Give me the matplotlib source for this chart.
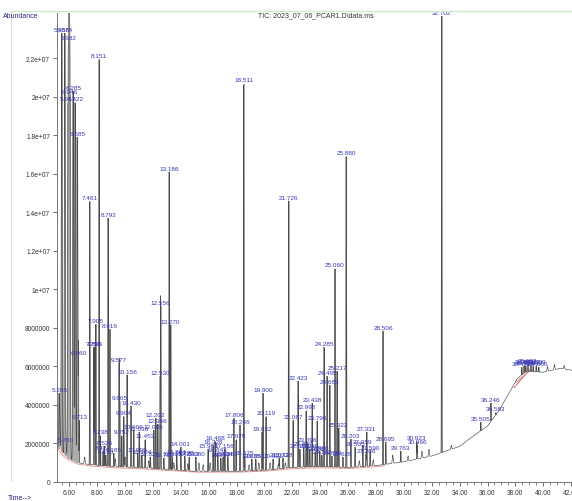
import numpy as np
import matplotlib.pyplot as plt
from matplotlib.lines import Line2D

plt.rcParams['font.family'] = ['Liberation Sans', 'DejaVu Sans']

# baseline of the TIC trace (time in min, abundance)
base_t = [5.12, 5.5, 6.0, 6.6, 7.5, 9.0, 11.0, 13.0, 15.0, 18.0, 20.0, 22.0, 24.0,
          26.0, 28.0, 30.0, 32.0, 33.0, 34.0, 35.0, 36.0, 36.9, 37.6, 38.1, 38.8,
          40.0, 41.2, 42.1]
base_v = [1.9e6, 1.5e6, 1.2e6, 1.0e6, 0.9e6, 0.8e6, 0.75e6, 0.65e6, 0.55e6, 0.55e6,
          0.6e6, 0.75e6, 0.8e6, 0.75e6, 0.85e6, 1.05e6, 1.35e6, 1.6e6, 1.85e6, 2.4e6,
          2.9e6, 3.8e6, 4.7e6, 5.35e6, 5.75e6, 5.7e6, 5.9e6, 5.8e6]

# solvent region peaks (broad, integrated in pink)
solv_t = [5.285, 5.456, 5.674, 5.760, 5.917, 5.982, 6.046, 6.285, 6.422, 6.585]
solv_h = [4.6e6, 2.33e7, 2.33e7, 2.0e6, 1.97e7, 2.29e7, 2.01e7, 2.03e7, 1.97e7, 1.79e7]

# labelled peaks: retention time, apex abundance
peak_t = [6.660, 6.713, 7.461, 7.758, 7.805, 7.905, 8.151, 8.238, 8.526, 8.792, 8.919,
          9.577, 9.605, 9.904, 9.752, 10.156, 10.430, 10.609, 11.453, 12.202, 12.346,
          12.530, 12.556, 13.186, 13.270, 13.704, 14.001, 15.963, 16.328, 16.468,
          17.156, 17.806, 17.979, 18.246, 18.511, 18.575, 19.832, 19.900, 20.119,
          21.726, 22.067, 22.423, 22.998, 23.438, 23.796, 24.285, 24.495, 24.685,
          25.060, 25.217, 25.322, 25.880, 26.203, 27.059, 27.286, 27.331, 28.506,
          28.695, 29.763, 30.923, 30.966, 32.702, 35.505, 36.246, 36.583,
          38.451, 38.623, 38.736, 38.903, 39.113, 39.287, 39.509, 39.666]
peak_h = [6.55e6, 3.2e6, 1.46e7, 7.0e6, 7.0e6, 8.2e6, 2.197e7, 2.4e6, 1.87e6, 1.37e7,
          7.95e6, 6.18e6, 4.2e6, 3.4e6, 2.4e6, 5.56e6, 3.95e6, 2.7e6, 2.2e6, 3.3e6,
          3.0e6, 5.5e6, 9.14e6, 1.61e7, 8.16e6, 1.4e6, 1.8e6, 1.7e6, 1.9e6, 2.1e6,
          1.7e6, 3.3e6, 2.2e6, 2.96e6, 2.068e7, 1.35e6, 2.6e6, 4.6e6, 3.4e6,
          1.46e7, 3.2e6, 5.25e6, 3.7e6, 4.1e6, 3.17e6, 7.0e6, 5.5e6, 5.04e6,
          1.107e7, 5.77e6, 2.8e6, 1.69e7, 2.23e6, 1.9e6, 1.45e6, 2.6e6, 7.84e6,
          2.08e6, 1.6e6, 2.1e6, 1.9e6, 2.42e7, 3.1e6, 4.1e6, 3.6e6,
          5.95e6, 6.05e6, 6.0e6, 6.1e6, 6.05e6, 6.0e6, 6.05e6, 5.95e6]

# small labelled peaks close to the baseline
small_t = [8.427, 8.610, 9.185, 10.905, 11.036, 11.204, 11.823, 12.065, 12.780, 13.391,
           14.278, 14.613, 15.080, 16.643, 16.859, 17.034, 17.367, 19.085, 19.363,
           20.621, 21.072, 21.328, 22.540, 22.807, 23.096, 23.239, 23.658, 23.960,
           24.112, 24.839, 25.628, 26.505, 27.590]
small_h = [1.6e6, 1.4e6, 1.5e6, 1.5e6, 2.6e6, 1.4e6, 1.3e6, 2.7e6, 1.25e6, 1.3e6,
           1.35e6, 1.3e6, 1.3e6, 1.5e6, 1.25e6, 1.3e6, 1.3e6, 1.2e6, 1.2e6,
           1.2e6, 1.25e6, 1.25e6, 1.7e6, 1.8e6, 2.0e6, 1.7e6, 1.55e6, 1.6e6,
           1.4e6, 1.35e6, 1.3e6, 1.8e6, 1.6e6]

# unlabelled wiggles of the trace
noise_t = [7.1, 9.3, 10.0, 11.7, 13.5, 14.5, 15.3, 15.6, 16.1, 18.9, 19.6, 20.4, 21.0,
           21.5, 26.8, 27.8, 29.2, 30.3, 31.3, 31.8, 33.4, 34.6, 40.3, 40.8, 41.5]
noise_h = [1.3e6, 1.2e6, 1.3e6, 1.1e6, 1.0e6, 0.95e6, 1.0e6, 0.9e6, 1.0e6, 0.9e6,
           1.0e6, 1.0e6, 0.95e6, 1.0e6, 1.1e6, 1.15e6, 1.4e6, 1.35e6, 1.6e6, 1.7e6,
           1.9e6, 2.2e6, 6.0e6, 6.1e6, 6.05e6]

yticks = [0, 2e6, 4e6, 6e6, 8e6, 1e7, 1.2e7, 1.4e7, 1.6e7, 1.8e7, 2e7, 2.2e7]
ytick_labels = ['0', '2000000', '4000000', '6000000', '8000000', '1e+07', '1.2e+07',
                '1.4e+07', '1.6e+07', '1.8e+07', '2e+07', '2.2e+07']

t = np.arange(5.12, 42.1, 0.002)
base = np.interp(t, base_t, base_v)
sig = base.copy()
solv = np.zeros_like(t)


def add_peak(arr, t0, h, w):
    b = np.interp(t0, base_t, base_v)
    arr += max(h - b, 0) * np.exp(-0.5 * ((t - t0) / w) ** 2)


for p, h in zip(solv_t, solv_h):
    add_peak(solv, p, h, 0.03)
sig += solv
for p, h in zip(peak_t, peak_h):
    add_peak(sig, p, h, 0.012)
for p, h in zip(small_t, small_h):
    add_peak(sig, p, h, 0.015)
for p, h in zip(noise_t, noise_h):
    add_peak(sig, p, h, 0.03)

fig = plt.figure(figsize=(5.72, 5.02), dpi=100)
ax = fig.add_axes([57 / 572, 19 / 502, 515 / 572, 469 / 502])

lab_c = '#3535b5'
# integration shading in the solvent region
m = t < 6.75
ax.fill_between(t[m], base[m], sig[m], color='#eeb4b4', lw=0)
ax.plot(t[t < 28.6], base[t < 28.6] * 0.93, color='#e49a9a', lw=0.7)
ax.plot([37.9, 39.1], [4.9e6, 5.9e6], color='#d98080', lw=0.8)
ax.plot([38.1, 39.3], [5.2e6, 5.95e6], color='#d98080', lw=0.8)

all_t = solv_t + peak_t + small_t
all_h = solv_h + peak_h + small_h
ax.vlines(all_t, np.interp(all_t, base_t, base_v), all_h, color='#acacac', lw=1.4)
ax.plot(t, sig, color='#4a4a4a', lw=0.45)

for p, h in zip(all_t, all_h):
    ax.annotate(f'{p:.3f}', (p, h), xytext=(0, 1), textcoords='offset points',
                ha='center', va='bottom', fontsize=4.6, color=lab_c)

ax.set_xlim(5.12, 42.06)
ax.set_ylim(0, 2.436e7)
ax.set_xticks(np.arange(6, 43, 2))
ax.set_xticklabels([f'{v:.2f}' for v in np.arange(6, 43, 2)])
ax.set_xticks(np.arange(5.5, 42.1, 0.5), minor=True)
ax.set_yticks(yticks)
ax.set_yticklabels(ytick_labels)
ax.tick_params(axis='both', labelsize=4.8, colors='#555555', labelcolor='#333333',
               width=0.6, length=3, pad=2)
ax.tick_params(axis='x', which='minor', length=1.8, width=0.5, colors='#555555')
for s in ['top', 'right']:
    ax.spines[s].set_visible(False)
for s in ['left', 'bottom']:
    ax.spines[s].set_color('#777777')
    ax.spines[s].set_linewidth(0.7)

fig.add_artist(Line2D([10 / 572, 1], [1 - 12 / 502, 1 - 12 / 502], color='#cdeccd', lw=1.0))
fig.add_artist(Line2D([11 / 572, 11 / 572], [0.04, 1 - 12 / 502], color='#dddddd', lw=0.8))
fig.text(3 / 572, 1 - 16 / 502, 'Abundance', fontsize=5, color='#28288a', va='center')
fig.text(316 / 572, 1 - 16 / 502, 'TIC: 2023_07_06_PCAR1.D\\data.ms', fontsize=5,
         color='#333333', ha='center', va='center')
fig.text(8 / 572, 1 - 499 / 502, 'Time-->', fontsize=5, color='#28288a', va='center')

fig.savefig('out.png', dpi=100)
